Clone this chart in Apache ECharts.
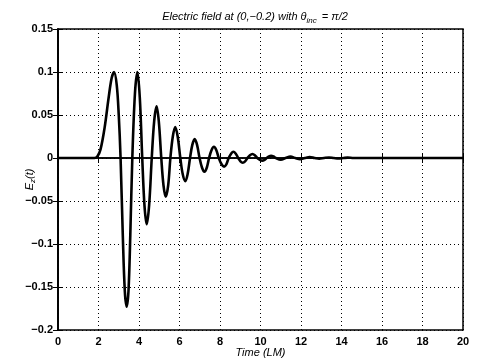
<!DOCTYPE html>
<html><head><meta charset="utf-8">
<script src="https://cdn.jsdelivr.net/npm/echarts@6/dist/echarts.min.js"></script>
<style>html,body{margin:0;padding:0;background:#fff}#c{width:477px;height:363px}</style>
</head><body><div id="c"></div>
<script>
var times = [0,1.8,1.95,2.1,2.3,2.5,2.65,2.77,2.9,3.0,3.09,3.2,3.3,3.39,3.48,3.57,3.67,3.8,3.92,4.04,4.16,4.27,4.38,4.5,4.63,4.75,4.87,4.98,5.1,5.21,5.32,5.44,5.55,5.67,5.79,5.91,6.04,6.16,6.29,6.4,6.52,6.63,6.75,6.87,6.99,7.11,7.23,7.35,7.46,7.58,7.7,7.82,7.94,8.07,8.2,8.32,8.43,8.55,8.66,8.78,8.9,9.01,9.12,9.24,9.36,9.48,9.6,9.72,9.84,9.97,10.09,10.2,10.31,10.42,10.52,10.64,10.76,11.0,11.24,11.48,11.72,11.95,12.19,12.43,12.67,12.9,13.14,13.38,13.62,13.85,14.1,14.3,14.6,15,20];
var field = [0,0,0.002,0.01,0.035,0.07,0.093,0.1,0.085,0.05,0,-0.09,-0.155,-0.173,-0.155,-0.09,0,0.075,0.1,0.07,0,-0.055,-0.077,-0.055,0,0.043,0.06,0.042,0,-0.032,-0.045,-0.032,0,0.025,0.036,0.025,0,-0.019,-0.027,-0.019,0,0.015,0.022,0.015,0,-0.011,-0.016,-0.011,0,0.009,0.013,0.009,0,-0.007,-0.01,-0.007,0,0.005,0.0073,0.005,0,-0.004,-0.0055,-0.004,0,0.0033,0.0047,0.0033,0,-0.0021,-0.003,-0.0021,0,0.0018,0.0025,0.0018,0,-0.002,0,0.0017,0,-0.0013,0,0.001,0,-0.0008,0,0.0006,0,-0.0005,0,0.0004,0,0,0];
var xTicks = [0,2,4,6,8,10,12,14,16,18,20];
var yTicks = [-0.2,-0.15,-0.1,-0.05,0,0.05,0.1,0.15];

var pts = times.map(function(t,i){return [t, field[i]];});
var font = 'Liberation Sans, Arial, sans-serif';
var chart = echarts.init(document.getElementById('c'));
var tickStyle = {show:true, inside:true, length:5, lineStyle:{color:'#000', width:1}};
var splitStyle = {show:true, lineStyle:{color:'#000', width:1, type:[1,3]}};
chart.setOption({
  animation:false,
  backgroundColor:'#fff',
  title:{
    text:'{t|Electric field at (0,\u22120.2) with \u03b8}{s|inc}{t| = \u03c0/2}',
    left:250, top:4, textAlign:'center',
    textStyle:{fontWeight:'normal', rich:{
      t:{fontFamily:font, fontSize:11, fontStyle:'italic', fontWeight:'normal', color:'#000'},
      s:{fontFamily:font, fontSize:8, fontStyle:'italic', fontWeight:'normal', color:'#000', padding:[8,2,0,0]}
    }}
  },
  grid:{left:58, right:14, top:29, bottom:33, containLabel:false, outerBoundsMode:'none', show:true, borderColor:'#000', borderWidth:1.5},
  xAxis:[{
    type:'value', min:0, max:20, interval:2,
    axisLine:{show:true, lineStyle:{color:'#000', width:1.5}},
    axisTick:tickStyle, splitLine:splitStyle,
    axisLabel:{color:'#000', fontFamily:font, fontSize:11, fontWeight:'bold', margin:6},
    name:'Time (LM)', nameLocation:'middle', nameGap:17, nameMoveOverlap:false,
    nameTextStyle:{fontFamily:font, fontSize:11, fontStyle:'italic', color:'#000'}
  },{
    type:'value', min:0, max:20, interval:2, position:'top',
    axisLine:{show:true, lineStyle:{color:'#000', width:1.5}},
    axisTick:tickStyle, splitLine:{show:false}, axisLabel:{show:false}
  }],
  yAxis:[{
    type:'value', min:-0.2, max:0.15, interval:0.05,
    axisLine:{show:true, lineStyle:{color:'#000', width:1.5}},
    axisTick:tickStyle, splitLine:splitStyle,
    axisLabel:{color:'#000', fontFamily:font, fontSize:11, fontWeight:'bold', margin:5,
      formatter:function(v){var r=Math.round(v*100)/100; return r===0?'0':String(r).replace('-','\u2212');}},
    name:'{t|E}{s|z}{t|(t)}', nameLocation:'middle', nameGap:21, nameRotate:90, nameMoveOverlap:false,
    nameTextStyle:{rich:{
      t:{fontFamily:font, fontSize:11, fontStyle:'italic', color:'#000'},
      s:{fontFamily:font, fontSize:8, fontStyle:'italic', color:'#000', padding:[6,0,0,0]}
    }}
  },{
    type:'value', min:-0.2, max:0.15, interval:0.05, position:'right',
    axisLine:{show:true, lineStyle:{color:'#000', width:1.5}},
    axisTick:tickStyle, splitLine:{show:false}, axisLabel:{show:false}
  }],
  series:[{
    type:'line', data:pts, smooth:0.35, showSymbol:false,
    lineStyle:{color:'#000', width:2.6}, z:5
  }]
});
</script></body></html>
